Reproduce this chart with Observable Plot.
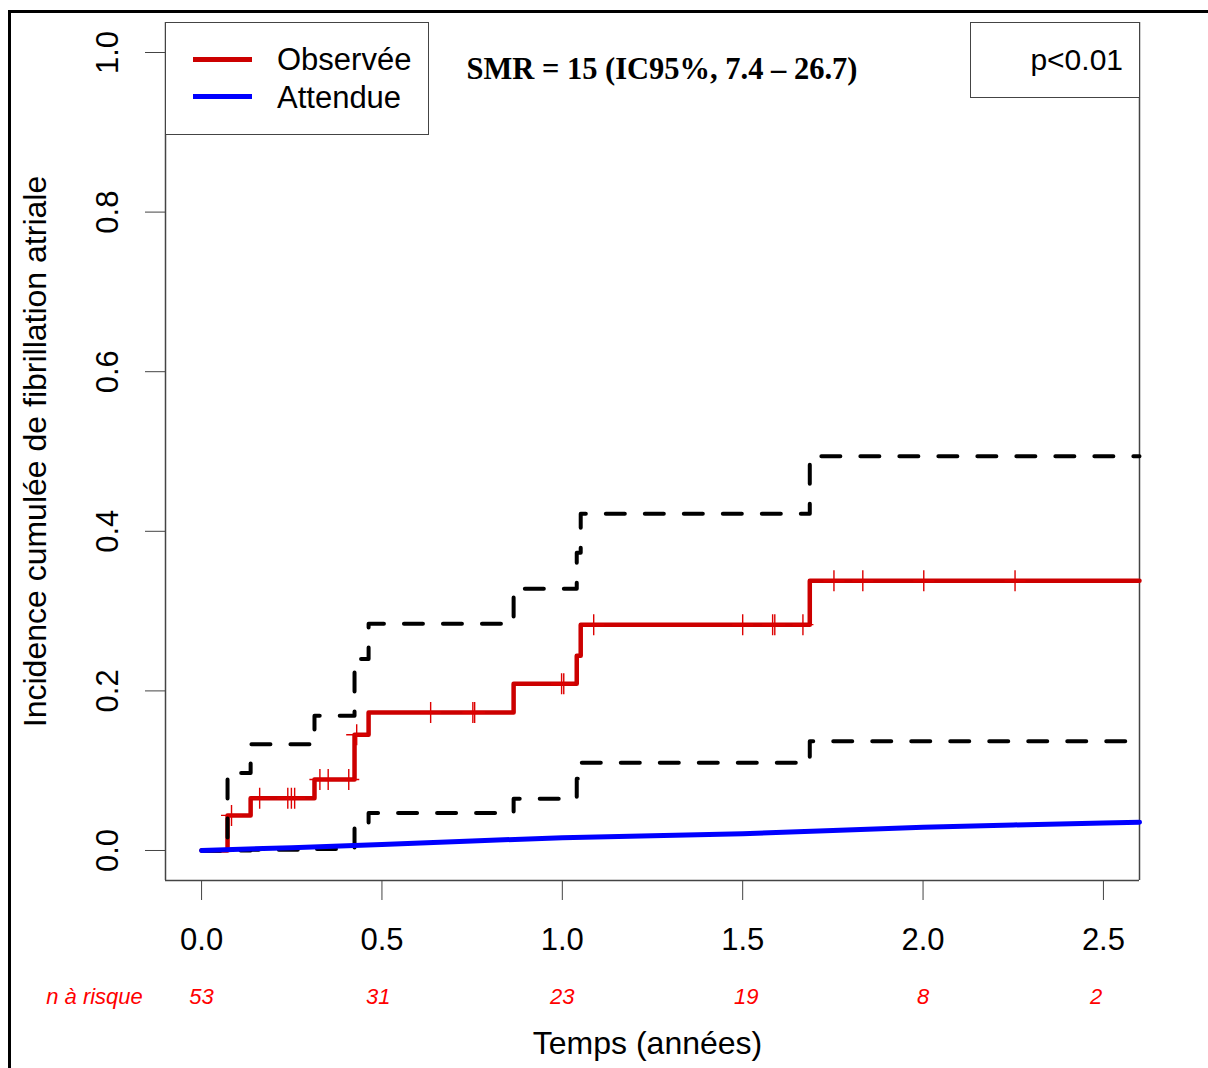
<!DOCTYPE html>
<html><head><meta charset="utf-8">
<script src="https://cdn.jsdelivr.net/npm/d3@7"></script>
<script src="https://cdn.jsdelivr.net/npm/@observablehq/plot@0.6"></script>
<style>
body{margin:0;background:#fff;}
#wrap{position:relative;width:1208px;height:1068px;overflow:hidden;font-family:"Liberation Sans",Arial,sans-serif;background:#fff;}
#wrap svg{position:absolute;left:0;top:0;}
.outer{position:absolute;left:8px;top:10px;width:1300px;height:1200px;border-top:3px solid #000;border-left:3px solid #000;}
.box{position:absolute;background:#fff;border:1.5px solid #444;box-sizing:border-box;}
.lg-line{position:absolute;height:5px;}
.lg-text{position:absolute;font-size:31px;line-height:31px;color:#000;white-space:nowrap;}
#smr{position:absolute;font-family:"Liberation Serif","Times New Roman",serif;font-weight:bold;font-size:30.5px;line-height:32px;white-space:nowrap;transform:translateX(-50%);}
</style></head><body><div id="wrap"><div class="outer"></div></div>
<script>
// ---- data ----
const xDomain = [-0.1, 2.6];
const yDomain = [-0.0376, 1.0376];
const xTicks = [0, 0.5, 1.0, 1.5, 2.0, 2.5];
const yTicks = [0, 0.2, 0.4, 0.6, 0.8, 1.0];

// Observed cumulative incidence (step function) with 95% CI
const obsTimes = [0, 0.072, 0.136, 0.313, 0.424, 0.463, 0.865, 1.040, 1.051, 1.686, 2.6];
const obsInc   = [0, 0.044, 0.0655, 0.089, 0.145, 0.173, 0.209, 0.244, 0.283, 0.338, 0.338];
const obsUpper = [0, 0.097, 0.133, 0.169, 0.240, 0.284, 0.328, 0.373, 0.422, 0.494, 0.494];
const obsLower = [0, 0.000, 0.001, 0.002, 0.029, 0.047, 0.065, 0.090, 0.110, 0.137, 0.137];

// Censoring marks
const censorTimes = [0.083, 0.161, 0.239, 0.249, 0.258, 0.328, 0.351, 0.408, 0.430, 0.635, 0.752, 0.757, 0.998, 1.004, 1.087, 1.500, 1.583, 1.589, 1.667, 1.753, 1.833, 2.002, 2.255];
const censorInc   = [0.044, 0.0655, 0.0655, 0.0655, 0.0655, 0.089, 0.089, 0.089, 0.145, 0.173, 0.173, 0.173, 0.209, 0.209, 0.283, 0.283, 0.283, 0.283, 0.283, 0.338, 0.338, 0.338, 0.338];

// Expected cumulative incidence
const expTimes = [0, 0.25, 0.5, 0.75, 1.0, 1.25, 1.5, 1.75, 2.0, 2.25, 2.5, 2.6];
const expInc   = [0, 0.0035, 0.0075, 0.012, 0.016, 0.0185, 0.021, 0.025, 0.029, 0.032, 0.0345, 0.0355];

// Number at risk
const nRiskTimes = [0, 0.49, 1.0, 1.51, 2.0, 2.48];
const nRisk = [53, 31, 23, 19, 8, 2];

// Texts
const yTitle = "Incidence cumulée de fibrillation atriale";
const xTitle = "Temps (années)";
const nRiskLabel = "n à risque";
const legendLabels = ["Observée", "Attendue"];
const smrText = "SMR = 15 (IC95%, 7.4 – 26.7)";
const pText = "p<0.01";

// ---- build tables ----
const obs = obsTimes.map((t, i) => ({t, v: obsInc[i], hi: obsUpper[i], lo: obsLower[i]}));
const censor = censorTimes.map((t, i) => ({t, v: censorInc[i]}));
const exp = expTimes.map((t, i) => ({t, v: expInc[i]}));
const risk = nRisk.map((n, i) => ({t: nRiskTimes[i], n}));

const plusSymbol = {
  draw(ctx, size) {
    const r = Math.sqrt(size / Math.PI);
    ctx.moveTo(-r, 0); ctx.lineTo(r, 0);
    ctx.moveTo(0, -r); ctx.lineTo(0, r);
  }
};

const font = '"Liberation Sans", Arial, sans-serif';
const dashed = {stroke: "#000", strokeWidth: 4, strokeDasharray: "19,20", strokeLinecap: "round", strokeLinejoin: "round", curve: "step-after"};

const chart = Plot.plot({
  width: 1208, height: 1068,
  marginLeft: 165, marginRight: 69, marginTop: 22, marginBottom: 188,
  style: {fontFamily: font, background: "transparent", overflow: "visible", color: "#444"},
  x: {domain: xDomain, ticks: xTicks, tickSize: 20, tickFormat: () => "", label: null},
  y: {domain: yDomain, ticks: yTicks, tickSize: 20, tickFormat: () => "", label: null},
  marks: [
    Plot.ruleX([xDomain[0], xDomain[1]], {stroke: "#444", strokeWidth: 1.5}),
    Plot.ruleY([yDomain[0]], {stroke: "#444", strokeWidth: 1.5}),
    Plot.text(xTicks, {x: d => d, text: d => d.toFixed(1), frameAnchor: "bottom", dy: 60, lineAnchor: "middle", fontSize: 31, fill: "#000"}),
    Plot.text(yTicks, {y: d => d, text: d => d.toFixed(1), frameAnchor: "left", dx: -57, rotate: -90, textAnchor: "middle", lineAnchor: "middle", fontSize: 31, fill: "#000"}),
    Plot.text([yTitle], {frameAnchor: "left", dx: -130, rotate: -90, textAnchor: "middle", lineAnchor: "middle", fontSize: 32, fill: "#000"}),
    Plot.text([xTitle], {frameAnchor: "bottom", dy: 163, dx: -5, lineAnchor: "middle", fontSize: 32, fill: "#000"}),
    Plot.text(risk, {x: "t", text: d => String(d.n), frameAnchor: "bottom", dy: 116, lineAnchor: "middle", fontSize: 22, fontStyle: "italic", fill: "#ff0000"}),
    Plot.text([nRiskLabel], {frameAnchor: "bottom-left", dx: -71, dy: 116, textAnchor: "middle", lineAnchor: "middle", fontSize: 22, fontStyle: "italic", fill: "#ff0000"}),
    Plot.line(obs, {x: "t", y: "v", curve: "step-after", stroke: "#cc0000", strokeWidth: 4.5}),
    Plot.dot(censor, {x: "t", y: "v", r: 10.5, symbol: plusSymbol, stroke: "#dd0000", strokeWidth: 1.4, fill: "none"}),
    Plot.line(obs, {x: "t", y: "hi", ...dashed}),
    Plot.line(obs, {x: "t", y: "lo", ...dashed}),
    Plot.line(exp, {x: "t", y: "v", stroke: "#0000ff", strokeWidth: 5})
  ]
});

const wrap = document.getElementById("wrap");
wrap.insertBefore(chart, wrap.firstChild);

// Legend box
const lg = document.createElement("div");
lg.className = "box";
Object.assign(lg.style, {left: "165px", top: "22px", width: "264px", height: "113px"});
const colors = ["#cc0000", "#0000ff"];
legendLabels.forEach((lab, i) => {
  const ln = document.createElement("div");
  ln.className = "lg-line";
  Object.assign(ln.style, {left: "27px", top: (34 + i * 37) + "px", width: "59px", background: colors[i]});
  lg.appendChild(ln);
  const tx = document.createElement("div");
  tx.className = "lg-text";
  tx.textContent = lab;
  Object.assign(tx.style, {left: "111px", top: (21 + i * 38) + "px"});
  lg.appendChild(tx);
});
wrap.appendChild(lg);

// p-value box
const pb = document.createElement("div");
pb.className = "box";
Object.assign(pb.style, {left: "970px", top: "22px", width: "170px", height: "76px"});
const pt = document.createElement("div");
pt.className = "lg-text";
pt.textContent = pText;
Object.assign(pt.style, {right: "16px", top: "21px", fontSize: "30px"});
pb.appendChild(pt);
wrap.appendChild(pb);

// SMR text
const smr = document.createElement("div");
smr.id = "smr";
smr.textContent = smrText;
Object.assign(smr.style, {left: "662px", top: "53px"});
wrap.appendChild(smr);
</script></body></html>
